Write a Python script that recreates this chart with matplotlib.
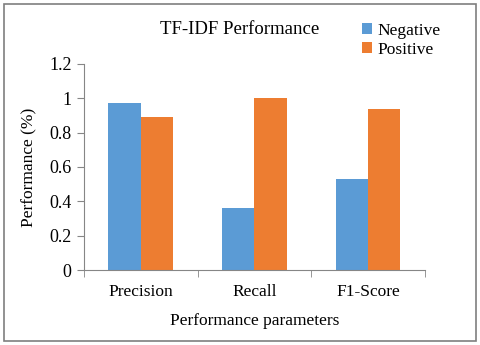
import numpy as np
import matplotlib.pyplot as plt
from matplotlib.patches import Rectangle

# chart data
categories = ['Precision', 'Recall', 'F1-Score']
negative = [0.97, 0.36, 0.53]
positive = [0.89, 1.0, 0.94]
yticks = [0, 0.2, 0.4, 0.6, 0.8, 1, 1.2]
ytick_labels = ['0', '0.2', '0.4', '0.6', '0.8', '1', '1.2']

plt.rcParams['font.family'] = ['Liberation Serif', 'DejaVu Serif']

fig = plt.figure(figsize=(4.8, 3.45), dpi=100)
ax = fig.add_axes([0.175, 0.217, 0.71, 0.598])

x = np.arange(len(categories))
w = 0.285
ax.bar(x - w / 2, negative, w, color='#5b9bd5', label='Negative')
ax.bar(x + w / 2, positive, w, color='#ed7d31', label='Positive')

ax.set_xlim(-0.5, len(categories) - 0.5)
ax.set_ylim(0, 1.2)
ax.set_yticks(yticks)
ax.set_yticklabels(ytick_labels, fontsize=13)

# category labels centred, tick marks at the boundaries
ax.set_xticks(x)
ax.set_xticklabels(categories, fontsize=12.5)
ax.tick_params(axis='x', length=0, pad=10)
ax.set_xticks(np.arange(-0.5, len(categories)), minor=True)
ax.tick_params(axis='x', which='minor', length=5, color='#868686')
ax.tick_params(axis='y', length=5, color='#868686', pad=4)

for s in ['top', 'right']:
    ax.spines[s].set_visible(False)
for s in ['left', 'bottom']:
    ax.spines[s].set_color('#868686')

ax.set_xlabel('Performance parameters', fontsize=12.5, labelpad=9)
ax.set_ylabel('Performance (%)', fontsize=12.5, labelpad=8)

fig.text(0.5, 0.915, 'TF-IDF Performance', ha='center', va='center', fontsize=13.5)
ax.legend(loc='upper left', bbox_to_anchor=(0.795, 1.232), frameon=False,
          fontsize=12.5, handlelength=0.6, handleheight=0.6, handletextpad=0.3,
          labelspacing=0.15, borderaxespad=0)

# outer frame around the whole chart
fig.patches.append(Rectangle((0.008, 0.012), 0.983, 0.976, transform=fig.transFigure,
                             fill=False, edgecolor='#7f7f7f', linewidth=1.2))

fig.savefig('out.png', dpi=100)
